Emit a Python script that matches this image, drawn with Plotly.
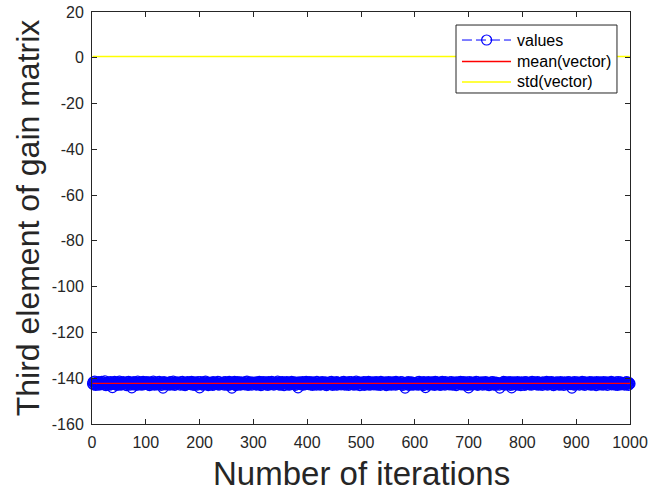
import numpy as np
import plotly.graph_objects as go

# Third element of the gain matrix recorded at each of the 1000 iterations
values = [
    -142.4, -141.6, -142.9, -142.1, -141.3, -142.7, -143.1, -142.0, -141.8, -142.5, -142.2, -141.5, -143.0, -142.3, -141.9, -142.6, -142.8, -141.4, -142.1, -142.4,
    -141.7, -142.9, -142.2, -141.2, -142.6, -143.2, -142.0, -141.8, -142.3, -142.7, -141.6, -142.4, -143.0, -142.1, -141.5, -142.8, -142.2, -144.1, -141.9, -142.5,
    -142.3, -141.4, -142.8, -142.0, -141.9, -143.1, -142.5, -141.7, -142.2, -142.9, -141.3, -142.6, -142.1, -143.0, -141.8, -142.4, -142.7, -141.5, -142.2, -142.0,
    -142.6, -141.9, -142.3, -143.2, -141.6, -142.1, -142.8, -141.4, -142.5, -142.0, -143.0, -141.7, -142.4, -144.2, -141.8, -142.2, -142.9, -141.5, -142.6, -142.3,
    -141.8, -142.5, -143.1, -142.0, -141.3, -142.7, -142.2, -141.9, -142.9, -142.4, -141.6, -142.1, -143.0, -142.6, -141.4, -142.3, -142.8, -141.7, -142.0, -142.5,
    -142.1, -141.5, -142.7, -142.9, -141.8, -142.3, -143.2, -141.6, -142.4, -142.0, -141.9, -142.8, -142.2, -141.3, -142.6, -143.0, -141.7, -142.5, -142.1, -142.4,
    -142.9, -141.6, -142.2, -142.5, -141.4, -142.8, -142.0, -141.9, -143.1, -142.3, -141.7, -144.3, -142.6, -141.5, -142.1, -142.9, -142.4, -141.8, -142.7, -142.0,
    -141.9, -142.4, -143.0, -142.2, -141.5, -142.6, -142.9, -141.7, -142.1, -142.8, -141.3, -142.5, -142.3, -143.1, -141.8, -142.0, -142.7, -141.6, -142.4, -142.2,
    -142.5, -141.8, -142.1, -143.0, -141.6, -142.4, -142.7, -141.4, -142.9, -142.2, -141.9, -142.6, -143.2, -142.0, -141.7, -142.3, -142.8, -141.5, -142.1, -142.6,
    -142.0, -141.7, -142.8, -142.3, -141.4, -142.9, -142.1, -141.8, -142.5, -143.1, -141.6, -142.2, -142.7, -141.9, -142.4, -143.0, -141.5, -142.6, -142.3, -144.2,
    -142.2, -141.5, -142.6, -142.9, -141.8, -142.3, -143.0, -141.6, -142.4, -142.1, -141.3, -142.7, -142.5, -141.9, -142.8, -143.2, -141.7, -142.0, -142.4, -142.2,
    -141.8, -142.6, -142.2, -143.1, -141.5, -142.4, -142.9, -141.7, -142.0, -142.7, -141.9, -142.3, -142.8, -141.4, -142.5, -143.0, -141.6, -142.1, -142.6, -142.3,
    -142.4, -141.9, -142.7, -142.1, -141.6, -143.0, -142.3, -141.5, -142.8, -142.0, -141.8, -142.5, -143.1, -142.2, -141.4, -142.6, -142.9, -141.7, -142.3, -144.3,
    -142.1, -141.7, -142.5, -142.8, -141.4, -142.3, -143.2, -141.9, -142.6, -142.0, -141.5, -142.9, -142.2, -141.8, -142.4, -143.0, -141.6, -142.7, -142.1, -142.5,
    -142.6, -141.8, -142.0, -142.9, -141.5, -142.4, -142.7, -141.3, -142.2, -143.1, -141.9, -142.5, -142.8, -141.6, -142.1, -142.3, -143.0, -141.7, -142.4, -142.0,
    -141.9, -142.5, -142.8, -142.2, -141.6, -143.0, -142.4, -141.8, -142.1, -142.7, -141.4, -142.6, -142.3, -143.2, -141.7, -142.0, -142.9, -141.5, -142.5, -142.2,
    -142.3, -141.6, -142.9, -142.1, -141.8, -142.6, -143.1, -141.5, -142.4, -142.0, -141.9, -142.8, -142.2, -141.4, -142.7, -142.5, -141.7, -143.0, -142.1, -142.4,
    -142.7, -141.9, -142.2, -142.6, -141.3, -142.4, -142.9, -141.8, -142.0, -143.0, -141.6, -142.3, -142.8, -141.5, -142.5, -142.1, -143.2, -141.7, -142.4, -142.0,
    -142.0, -141.5, -142.6, -142.9, -141.7, -142.2, -143.0, -141.9, -142.5, -142.1, -141.4, -142.7, -142.3, -141.8, -142.8, -142.4, -141.6, -143.1, -142.2, -142.6,
    -142.4, -141.8, -144.2, -142.0, -141.6, -142.7, -142.3, -141.9, -142.9, -142.1, -141.5, -142.5, -143.0, -142.2, -141.7, -142.6, -142.8, -141.4, -142.3, -142.0,
    -142.2, -141.7, -142.8, -142.4, -141.5, -142.9, -142.1, -141.8, -142.6, -143.1, -141.6, -142.3, -142.0, -141.9, -142.7, -142.5, -143.0, -141.4, -142.2, -142.4,
    -141.9, -142.6, -142.3, -143.0, -141.7, -142.1, -142.8, -141.5, -142.4, -142.0, -141.8, -142.9, -142.5, -141.6, -142.2, -143.2, -141.9, -142.7, -142.3, -142.1,
    -142.5, -141.6, -142.0, -142.7, -141.4, -142.4, -143.1, -141.9, -142.2, -142.8, -141.7, -142.6, -142.1, -143.0, -141.5, -142.3, -142.9, -141.8, -142.4, -142.2,
    -142.1, -141.8, -142.9, -142.3, -141.6, -142.7, -142.0, -141.4, -142.5, -143.0, -141.9, -142.2, -142.8, -141.7, -142.4, -142.6, -143.1, -141.5, -142.0, -142.3,
    -142.6, -141.5, -142.2, -142.8, -141.9, -142.4, -143.0, -141.7, -142.1, -142.6, -141.3, -142.9, -142.3, -141.8, -142.5, -142.0, -141.6, -143.2, -142.2, -142.4,
    -142.0, -141.9, -142.7, -142.2, -141.5, -143.1, -142.4, -141.6, -142.8, -142.1, -141.8, -142.5, -142.9, -141.4, -142.3, -142.6, -143.0, -141.7, -142.1, -142.5,
    -142.3, -141.6, -142.5, -142.9, -141.8, -142.0, -142.7, -141.5, -142.4, -143.0, -141.7, -142.2, -142.8, -141.9, -142.1, -143.1, -141.4, -142.6, -142.3, -142.0,
    -141.8, -142.4, -142.8, -142.1, -141.6, -142.6, -143.2, -141.9, -142.3, -142.7, -141.5, -142.0, -142.9, -141.7, -142.5, -142.2, -143.0, -141.6, -142.4, -142.1,
    -142.5, -141.7, -142.1, -143.0, -141.4, -142.3, -142.8, -141.8, -142.6, -142.0, -141.9, -142.7, -142.2, -141.5, -142.9, -142.4, -141.6, -143.1, -142.0, -142.3,
    -142.2, -144.3, -142.6, -142.4, -141.7, -142.9, -142.0, -141.5, -142.5, -143.1, -141.8, -142.3, -142.7, -141.6, -142.1, -142.8, -143.0, -141.9, -142.4, -142.2,
    -141.9, -142.5, -142.9, -142.2, -141.6, -142.7, -143.0, -141.4, -142.3, -142.0, -141.8, -142.6, -142.4, -141.7, -142.8, -143.2, -141.5, -142.1, -142.5, -144.1,
    -142.4, -141.8, -142.1, -142.7, -141.5, -143.0, -142.3, -141.9, -142.6, -142.2, -141.6, -142.9, -142.0, -141.7, -142.5, -142.8, -143.1, -141.4, -142.3, -142.1,
    -142.0, -141.6, -142.8, -142.3, -141.9, -142.5, -143.1, -141.7, -142.2, -142.9, -141.4, -142.4, -142.7, -141.8, -142.1, -143.0, -141.5, -142.6, -142.2, -142.4,
    -142.6, -141.9, -142.2, -142.9, -141.6, -142.3, -142.7, -141.5, -142.4, -143.0, -141.8, -142.1, -142.8, -141.7, -142.5, -142.0, -143.2, -141.6, -142.3, -142.5,
    -142.1, -141.7, -142.6, -142.4, -141.4, -142.9, -142.2, -141.8, -142.7, -142.0, -141.5, -143.0, -142.5, -141.9, -142.3, -142.8, -141.6, -143.1, -142.2, -144.2,
    -142.3, -141.5, -142.9, -142.1, -141.8, -142.6, -143.0, -141.7, -142.4, -142.2, -141.9, -142.7, -142.0, -141.4, -142.8, -142.5, -143.1, -141.6, -142.1, -142.4,
    -142.7, -141.8, -142.2, -142.5, -141.6, -143.0, -142.4, -141.9, -142.1, -142.8, -141.5, -142.3, -142.9, -141.7, -142.6, -142.0, -141.8, -143.2, -142.4, -142.2,
    -142.0, -141.6, -142.7, -142.9, -141.5, -142.3, -142.8, -141.8, -142.5, -143.1, -141.7, -142.1, -142.6, -141.9, -142.4, -142.2, -143.0, -144.3, -142.3, -142.5,
    -142.4, -141.9, -142.1, -142.8, -141.4, -142.6, -143.0, -141.7, -142.2, -142.5, -141.6, -142.9, -142.3, -141.8, -142.7, -142.0, -141.5, -143.1, -142.4, -144.2,
    -142.2, -141.7, -142.9, -142.3, -141.6, -142.7, -142.1, -141.9, -142.4, -143.0, -141.5, -142.6, -142.8, -141.8, -142.0, -142.5, -143.2, -141.6, -142.3, -142.1,
    -142.5, -141.8, -142.2, -143.1, -141.5, -142.4, -142.8, -141.6, -142.0, -142.7, -141.9, -142.3, -142.9, -141.7, -142.6, -142.1, -143.0, -141.4, -142.5, -142.2,
    -142.1, -141.6, -142.7, -142.4, -141.8, -142.9, -142.3, -141.5, -142.6, -143.0, -141.7, -142.2, -142.8, -141.9, -142.4, -142.0, -143.1, -141.6, -142.3, -142.5,
    -142.6, -141.9, -142.0, -142.8, -141.4, -142.5, -143.0, -141.8, -142.3, -142.1, -141.6, -142.7, -142.4, -141.5, -142.9, -142.2, -141.7, -143.2, -142.1, -142.4,
    -142.3, -141.7, -142.8, -142.2, -141.6, -142.6, -142.9, -141.9, -142.4, -143.0, -141.5, -142.1, -142.7, -141.8, -142.5, -142.0, -143.1, -141.6, -142.2, -142.6,
    -142.0, -141.8, -142.5, -142.9, -141.5, -142.3, -142.7, -141.6, -142.1, -142.8, -141.9, -144.3, -142.4, -141.7, -142.6, -143.0, -141.5, -142.2, -142.9, -142.3,
    -142.4, -141.6, -142.1, -142.7, -141.8, -143.0, -142.2, -141.9, -142.5, -142.0, -141.4, -142.8, -142.3, -141.7, -142.6, -143.1, -141.6, -142.4, -142.1, -142.5,
    -142.2, -141.9, -142.8, -142.4, -141.5, -142.6, -143.0, -141.7, -142.3, -142.9, -141.6, -142.1, -142.5, -141.8, -142.7, -142.0, -143.2, -141.5, -142.4, -142.2,
    -142.5, -141.7, -142.3, -142.9, -141.6, -142.1, -142.8, -141.9, -142.4, -143.0, -141.5, -142.6, -142.2, -141.8, -142.7, -142.4, -141.6, -143.1, -142.0, -142.3,
    -142.1, -141.8, -142.6, -142.2, -141.4, -142.9, -142.5, -141.7, -142.0, -142.8, -141.9, -142.3, -143.0, -141.6, -142.4, -142.7, -143.1, -141.5, -142.2, -142.6,
    -142.3, -141.6, -142.9, -142.5, -141.8, -142.1, -142.7, -141.9, -142.4, -143.0, -141.7, -142.2, -142.8, -141.5, -142.6, -142.0, -143.1, -141.8, -142.3, -142.4,
]
iterations = list(range(1, len(values) + 1))

x_ticks = [0, 100, 200, 300, 400, 500, 600, 700, 800, 900, 1000]
y_ticks = [-160, -140, -120, -100, -80, -60, -40, -20, 0, 20]

series_names = ["values", "mean(vector)", "std(vector)"]
series_colors = ["#0000ff", "#ff0000", "#ffff00"]

x_title = "Number of iterations"
y_title = "Third element of gain matrix"

vec = np.array(values)
mean_val = float(vec.mean())
std_val = float(vec.std(ddof=1))

AXIS_COLOR = "#262626"
FONT = "Liberation Sans, Arial, Helvetica, sans-serif"
DASH = "10px,4px"

fig = go.Figure()

fig.add_trace(go.Scatter(
    x=iterations, y=values, name=series_names[0],
    mode="lines+markers",
    line=dict(color=series_colors[0], width=1, dash=DASH),
    marker=dict(symbol="circle-open", size=10, color=series_colors[0], line=dict(width=1.2)),
    cliponaxis=False, showlegend=False,
))
fig.add_trace(go.Scatter(
    x=[iterations[0], iterations[-1]], y=[mean_val, mean_val], name=series_names[1],
    mode="lines", line=dict(color=series_colors[1], width=1.3), showlegend=False,
))
fig.add_trace(go.Scatter(
    x=[iterations[0], iterations[-1]], y=[std_val, std_val], name=series_names[2],
    mode="lines", line=dict(color=series_colors[2], width=1.6), showlegend=False,
))

# Boxed legend in the upper right corner of the axes (paper coordinates)
box_x0, box_x1, box_y0, box_y1 = 0.6766, 0.9758, 0.8034, 0.9684
sample_x0, sample_x1, marker_x, text_x = 0.6877, 0.7788, 0.7335, 0.7862
row_y = [0.9320, 0.8799, 0.8301]

shapes = [dict(type="rect", xref="paper", yref="paper",
               x0=box_x0, x1=box_x1, y0=box_y0, y1=box_y1,
               line=dict(color=AXIS_COLOR, width=1), fillcolor="white", layer="above")]
annotations = []
for i, (name, color) in enumerate(zip(series_names, series_colors)):
    shapes.append(dict(type="line", xref="paper", yref="paper",
                       x0=sample_x0, x1=sample_x1, y0=row_y[i], y1=row_y[i],
                       line=dict(color=color, width=1.3 if i else 1, dash=DASH if i == 0 else "solid")))
    annotations.append(dict(xref="paper", yref="paper", x=text_x, y=row_y[i],
                            xanchor="left", yanchor="middle", showarrow=False, text=name,
                            font=dict(family=FONT, size=16, color="#000000")))
shapes.append(dict(type="circle", xref="paper", yref="paper",
                   xsizemode="pixel", ysizemode="pixel", xanchor=marker_x, yanchor=row_y[0],
                   x0=-5, x1=5, y0=-5, y1=5,
                   line=dict(color=series_colors[0], width=1.2), fillcolor="rgba(0,0,0,0)"))

# x-axis label placed below the tick labels
annotations.append(dict(xref="paper", yref="paper", x=0.5, y=0, yshift=-49,
                        xanchor="center", yanchor="middle", showarrow=False, text=x_title,
                        font=dict(family=FONT, size=33, color=AXIS_COLOR)))

axis_common = dict(
    showline=True, linecolor=AXIS_COLOR, linewidth=1, mirror="ticks",
    ticks="inside", ticklen=5, tickwidth=1, tickcolor=AXIS_COLOR,
    showgrid=False, zeroline=False,
    tickfont=dict(family=FONT, size=16, color=AXIS_COLOR),
)

fig.update_layout(
    width=666, height=495,
    margin=dict(l=92, r=36, t=12, b=71, autoexpand=False),
    paper_bgcolor="white", plot_bgcolor="white",
    font=dict(family=FONT, color=AXIS_COLOR),
    showlegend=False,
    shapes=shapes,
    annotations=annotations,
    xaxis=dict(
        range=[0, 1000], tickvals=x_ticks, ticktext=[str(v) for v in x_ticks],
        ticklabelstandoff=4,
        **axis_common,
    ),
    yaxis=dict(
        range=[-160, 20], tickvals=y_ticks, ticktext=[str(v) for v in y_ticks],
        title=dict(text=y_title, font=dict(family=FONT, size=32, color=AXIS_COLOR), standoff=2),
        ticklabelstandoff=4,
        **axis_common,
    ),
)

fig.write_html("out.html")
